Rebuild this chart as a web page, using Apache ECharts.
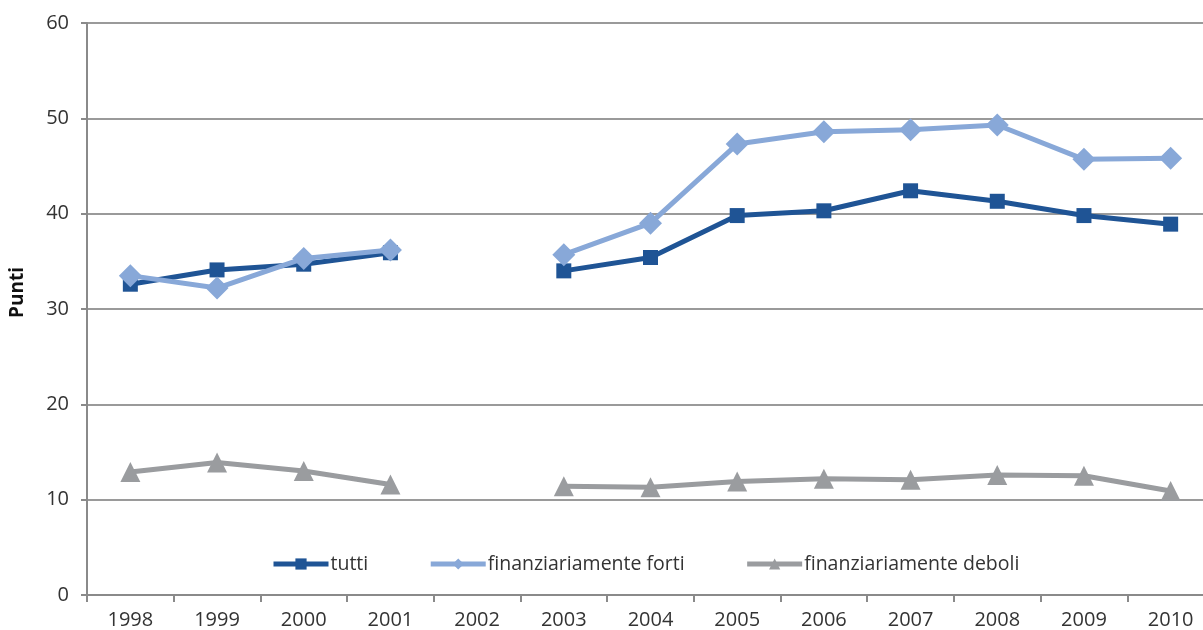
<!DOCTYPE html>
<html>
<head>
<meta charset="utf-8">
<script src="https://cdn.jsdelivr.net/npm/echarts@6/dist/echarts.min.js"></script>
<style>
  html, body { margin: 0; padding: 0; background: #fff; }
  #main { width: 1203px; height: 630px; }
</style>
</head>
<body>
<div id="main"></div>
<script>
var anni = ['1998','1999','2000','2001','2002','2003','2004','2005','2006','2007','2008','2009','2010'];
var tutti = [32.6, 34.1, 34.7, 35.9, null, 34.0, 35.4, 39.8, 40.3, 42.4, 41.3, 39.8, 38.9];
var forti = [33.5, 32.2, 35.3, 36.2, null, 35.7, 39.0, 47.3, 48.6, 48.8, 49.3, 45.7, 45.8];
var deboli = [12.9, 13.9, 13.0, 11.6, null, 11.4, 11.3, 11.9, 12.2, 12.1, 12.6, 12.5, 10.9];

var chart = echarts.init(document.getElementById('main'));
var axisCol = '#8a8a8a';
var font = '"Open Sans", "Noto Sans", sans-serif';

var option = {
  animation: false,
  textStyle: { fontFamily: font },
  grid: { left: 87, right: -11, top: 23, bottom: 35, outerBoundsMode: 'none' },
  graphic: [{
    type: 'text',
    left: 8,
    top: 267,
    rotation: Math.PI / 2,
    style: { text: 'Punti', font: 'bold 19px ' + font, fill: '#111' }
  }],
  legend: {
    top: 549,
    left: 266,
    itemGap: 60,
    itemWidth: 55,
    itemHeight: 14,
    lineStyle: { width: 5 },
    textStyle: { fontSize: 19.5, color: '#333', fontFamily: font, padding: [0, 0, 0, -3] },
    data: ['tutti', 'finanziariamente forti', 'finanziariamente deboli']
  },
  xAxis: {
    type: 'category',
    data: anni,
    boundaryGap: true,
    axisLine: { lineStyle: { color: axisCol, width: 2 } },
    axisTick: { show: true, length: 7, lineStyle: { color: axisCol, width: 2 } },
    axisLabel: { fontSize: 20, color: '#333', margin: 15 }
  },
  yAxis: {
    type: 'value',
    min: 0,
    max: 60,
    interval: 10,
    axisLine: { show: true, lineStyle: { color: axisCol, width: 2 } },
    axisTick: { show: true, length: 6, lineStyle: { color: axisCol, width: 2 } },
    axisLabel: { fontSize: 20, color: '#333', margin: 18 },
    splitLine: { lineStyle: { color: '#9a9a9a', width: 2 } }
  },
  series: [
    {
      name: 'tutti', type: 'line', data: tutti,
      symbol: 'rect', symbolSize: 15,
      connectNulls: false,
      lineStyle: { color: '#1f5495', width: 5 },
      itemStyle: { color: '#1f5495' },
      z: 3
    },
    {
      name: 'finanziariamente forti', type: 'line', data: forti,
      symbol: 'diamond', symbolSize: 23,
      connectNulls: false,
      lineStyle: { color: '#88a8d8', width: 5 },
      itemStyle: { color: '#88a8d8' },
      z: 4
    },
    {
      name: 'finanziariamente deboli', type: 'line', data: deboli,
      symbol: 'triangle', symbolSize: 20,
      connectNulls: false,
      lineStyle: { color: '#9a9c9f', width: 5 },
      itemStyle: { color: '#9a9c9f' },
      z: 2
    }
  ]
};
chart.setOption(option);
</script>
</body>
</html>
